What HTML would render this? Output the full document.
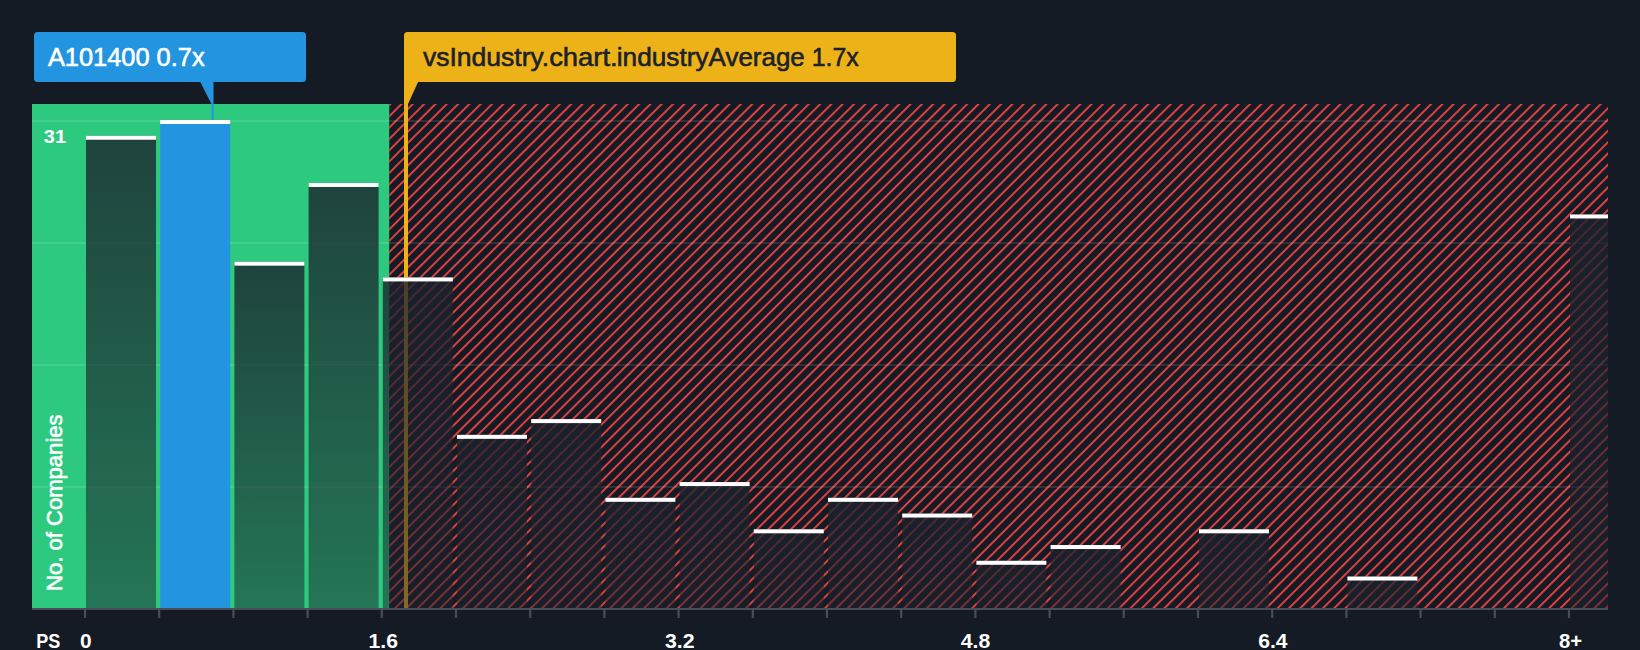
<!DOCTYPE html>
<html lang="en"><head><meta charset="utf-8"><title>PS ratio vs industry</title>
<style>
html,body{margin:0;padding:0;background:#151B24;}
body{width:1640px;height:650px;overflow:hidden;}
svg{display:block;}
text{font-family:"Liberation Sans",sans-serif;}
.b{font-weight:700;fill:#fff;}
</style></head><body>
<svg width="1640" height="650" viewBox="0 0 1640 650">
<defs>
<pattern id="hatch" width="8" height="8" patternUnits="userSpaceOnUse" patternTransform="translate(6.4 0) rotate(45)">
<rect x="0" y="0" width="1.9" height="8" fill="#E64141"/>
</pattern>
<linearGradient id="bar" x1="0" y1="0" x2="0" y2="1">
<stop offset="0" stop-color="#1B222D" stop-opacity="0.8"/>
<stop offset="1" stop-color="#1B222D" stop-opacity="0.5"/>
</linearGradient>
</defs>
<rect width="1640" height="650" fill="#151B24"/>
<rect x="32" y="104" width="357.2" height="504.0" fill="#2DC97E"/>
<rect x="389.2" y="104" width="1218.8" height="504.0" fill="url(#hatch)"/>
<rect x="32" y="120" width="1576" height="2" fill="#fff" fill-opacity="0.1"/>
<rect x="32" y="242" width="1576" height="2" fill="#fff" fill-opacity="0.1"/>
<rect x="32" y="364" width="1576" height="2" fill="#fff" fill-opacity="0.1"/>
<rect x="32" y="486" width="1576" height="2" fill="#fff" fill-opacity="0.1"/>
<rect x="404" y="82" width="4" height="526.0" fill="#EEB219"/>
<rect x="86.00" y="135.74" width="70.00" height="472.26" fill="url(#bar)"/>
<rect x="160.20" y="120.00" width="70.00" height="488.00" fill="#2394DF"/>
<rect x="234.40" y="261.68" width="70.00" height="346.32" fill="url(#bar)"/>
<rect x="308.60" y="182.97" width="70.00" height="425.03" fill="url(#bar)"/>
<rect x="382.80" y="277.42" width="70.00" height="330.58" fill="url(#bar)"/>
<rect x="457.00" y="434.84" width="70.00" height="173.16" fill="url(#bar)"/>
<rect x="531.20" y="419.10" width="70.00" height="188.90" fill="url(#bar)"/>
<rect x="605.40" y="497.81" width="70.00" height="110.19" fill="url(#bar)"/>
<rect x="679.60" y="482.06" width="70.00" height="125.94" fill="url(#bar)"/>
<rect x="753.80" y="529.29" width="70.00" height="78.71" fill="url(#bar)"/>
<rect x="828.00" y="497.81" width="70.00" height="110.19" fill="url(#bar)"/>
<rect x="902.20" y="513.55" width="70.00" height="94.45" fill="url(#bar)"/>
<rect x="976.40" y="560.77" width="70.00" height="47.23" fill="url(#bar)"/>
<rect x="1050.60" y="545.03" width="70.00" height="62.97" fill="url(#bar)"/>
<rect x="1199.00" y="529.29" width="70.00" height="78.71" fill="url(#bar)"/>
<rect x="1347.40" y="576.52" width="70.00" height="31.48" fill="url(#bar)"/>
<rect x="1570.00" y="214.45" width="38.00" height="393.55" fill="url(#bar)"/>
<rect x="86.00" y="135.74" width="70.00" height="4" fill="#fff"/>
<rect x="160.20" y="120.00" width="70.00" height="4" fill="#fff"/>
<rect x="234.40" y="261.68" width="70.00" height="4" fill="#fff"/>
<rect x="308.60" y="182.97" width="70.00" height="4" fill="#fff"/>
<rect x="382.80" y="277.42" width="70.00" height="4" fill="#fff"/>
<rect x="457.00" y="434.84" width="70.00" height="4" fill="#fff"/>
<rect x="531.20" y="419.10" width="70.00" height="4" fill="#fff"/>
<rect x="605.40" y="497.81" width="70.00" height="4" fill="#fff"/>
<rect x="679.60" y="482.06" width="70.00" height="4" fill="#fff"/>
<rect x="753.80" y="529.29" width="70.00" height="4" fill="#fff"/>
<rect x="828.00" y="497.81" width="70.00" height="4" fill="#fff"/>
<rect x="902.20" y="513.55" width="70.00" height="4" fill="#fff"/>
<rect x="976.40" y="560.77" width="70.00" height="4" fill="#fff"/>
<rect x="1050.60" y="545.03" width="70.00" height="4" fill="#fff"/>
<rect x="1199.00" y="529.29" width="70.00" height="4" fill="#fff"/>
<rect x="1347.40" y="576.52" width="70.00" height="4" fill="#fff"/>
<rect x="1570.00" y="214.45" width="38.00" height="4" fill="#fff"/>
<rect x="32" y="608" width="1576" height="2" fill="#484D56"/>
<rect x="83.90" y="610" width="2.2" height="8" fill="#484D56"/>
<rect x="158.10" y="610" width="2.2" height="8" fill="#484D56"/>
<rect x="232.30" y="610" width="2.2" height="8" fill="#484D56"/>
<rect x="306.50" y="610" width="2.2" height="8" fill="#484D56"/>
<rect x="380.70" y="610" width="2.2" height="8" fill="#484D56"/>
<rect x="454.90" y="610" width="2.2" height="8" fill="#484D56"/>
<rect x="529.10" y="610" width="2.2" height="8" fill="#484D56"/>
<rect x="603.30" y="610" width="2.2" height="8" fill="#484D56"/>
<rect x="677.50" y="610" width="2.2" height="8" fill="#484D56"/>
<rect x="751.70" y="610" width="2.2" height="8" fill="#484D56"/>
<rect x="825.90" y="610" width="2.2" height="8" fill="#484D56"/>
<rect x="900.10" y="610" width="2.2" height="8" fill="#484D56"/>
<rect x="974.30" y="610" width="2.2" height="8" fill="#484D56"/>
<rect x="1048.50" y="610" width="2.2" height="8" fill="#484D56"/>
<rect x="1122.70" y="610" width="2.2" height="8" fill="#484D56"/>
<rect x="1196.90" y="610" width="2.2" height="8" fill="#484D56"/>
<rect x="1271.10" y="610" width="2.2" height="8" fill="#484D56"/>
<rect x="1345.30" y="610" width="2.2" height="8" fill="#484D56"/>
<rect x="1419.50" y="610" width="2.2" height="8" fill="#484D56"/>
<rect x="1493.70" y="610" width="2.2" height="8" fill="#484D56"/>
<rect x="1567.90" y="610" width="2.2" height="8" fill="#484D56"/>
<rect x="34" y="32" width="272" height="50" rx="3.5" fill="#2394DF"/>
<path d="M200 81.5 H213.5 V120 H211.5 V104 Z" fill="#2394DF"/>
<text x="47.9" y="66" font-size="26.4" fill="#fff" stroke="#fff" stroke-width="0.6" textLength="156.7" lengthAdjust="spacingAndGlyphs">A101400 0.7x</text>
<rect x="404" y="32" width="552" height="50" rx="3.5" fill="#EEB219"/>
<path d="M404 70 V104 H408 L418.3 81.5 Z" fill="#EEB219"/>
<text y="66" font-size="26.4" fill="#1B222D" stroke="#1B222D" stroke-width="0.6"><tspan x="423.0" textLength="126.2" lengthAdjust="spacingAndGlyphs">vsIndustry.</tspan><tspan x="549.2" textLength="68.4" lengthAdjust="spacingAndGlyphs">chart.</tspan><tspan x="616.8" textLength="91.8" lengthAdjust="spacingAndGlyphs">industry</tspan><tspan x="708.6" textLength="103.4" lengthAdjust="spacingAndGlyphs">Average </tspan><tspan x="811.7" textLength="47.0" lengthAdjust="spacingAndGlyphs">1.7x</tspan></text>
<text class="b" x="43.8" y="143.3" font-size="19" textLength="22.2" lengthAdjust="spacingAndGlyphs">31</text>
<text x="0" y="0" transform="translate(62 591) rotate(-90)" font-size="22.4" fill="#fff" stroke="#fff" stroke-width="0.65" textLength="176.6" lengthAdjust="spacingAndGlyphs">No. of Companies</text>
<text class="b" x="36.3" y="647.8" font-size="19.3" textLength="24.1" lengthAdjust="spacingAndGlyphs">PS</text>
<text class="b" x="80.1" y="647.8" font-size="19.3" textLength="11.6" lengthAdjust="spacingAndGlyphs">0</text>
<text class="b" x="368.5" y="647.8" font-size="19.3" textLength="29.4" lengthAdjust="spacingAndGlyphs">1.6</text>
<text class="b" x="664.9" y="647.8" font-size="19.3" textLength="29.6" lengthAdjust="spacingAndGlyphs">3.2</text>
<text class="b" x="960.8" y="647.8" font-size="19.3" textLength="29.5" lengthAdjust="spacingAndGlyphs">4.8</text>
<text class="b" x="1258.2" y="647.8" font-size="19.3" textLength="29.4" lengthAdjust="spacingAndGlyphs">6.4</text>
<text class="b" x="1559.0" y="647.8" font-size="19.3" textLength="23.1" lengthAdjust="spacingAndGlyphs">8+</text>
</svg>
</body></html>
